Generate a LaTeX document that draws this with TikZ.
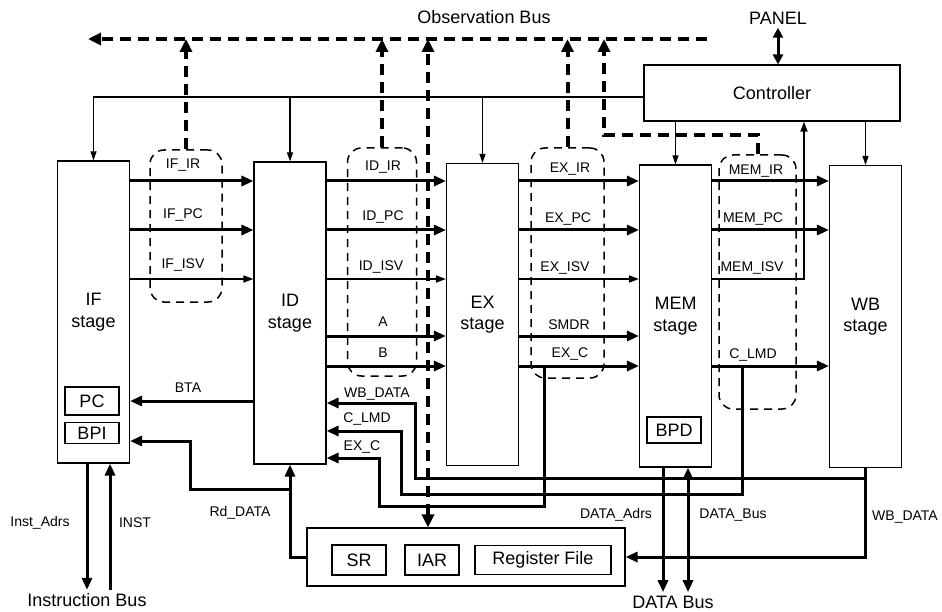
\documentclass[tikz,border=0pt]{standalone}
\usepackage{fontspec}
\setmainfont{Liberation Sans}
\usetikzlibrary{arrows.meta, positioning}

\begin{document}
\begin{tikzpicture}[x=1pt, y=-1pt,
    every node/.style={font=\fontsize{14}{16}\selectfont},
    big/.style={font=\fontsize{18}{21.5}\selectfont},
    stagebox/.style={draw, line width=1.1pt, minimum width=72pt, minimum height=302pt, inner sep=0pt, big, align=center},
    regbox/.style={draw, line width=1.1pt, inner sep=0pt, big},
    latch/.style={draw, line width=1.5pt, dash pattern=on 8pt off 6pt, rounded corners=14pt, inner sep=0pt},
    bus/.style={line width=3pt, -{Triangle[length=12pt,width=10pt]}},
    thinbus/.style={line width=1.6pt, -{Triangle[length=10pt,width=7pt]}},
    ctl/.style={line width=1.1pt, -{Triangle[length=9pt,width=6pt]}},
    obsline/.style={line width=4pt, dash pattern=on 11pt off 7pt, -{Triangle[length=13pt,width=12pt]}}]
\useasboundingbox (0,0) rectangle (942,612);

% pipeline latches (dashed)
\node[latch, minimum width=72pt, minimum height=152pt] (IFlat) at (186,226) {};
\node[latch, minimum width=69pt, minimum height=228pt] (IDlat) at (382,262) {};
\node[latch, minimum width=73pt, minimum height=230pt] (EXlat) at (567.5,263) {};
\node[latch, minimum width=77pt, minimum height=254pt] (MEMlat) at (757.5,282) {};

% stages
\node[stagebox] (IF) at (93.5,312) {IF\\stage};
\node[stagebox] (ID) at (290,313) {ID\\stage};
\node[stagebox] (EX) at (482.5,314.5) {EX\\stage};
\node[stagebox] (MEM) at (675.5,316) {MEM\\stage};
\node[stagebox] (WB) at (865.5,316.5) {WB\\stage};
\node[regbox, minimum width=54pt, minimum height=28pt] (PC) at (92,401) {PC};
\node[regbox, minimum width=54pt, minimum height=21pt] (BPI) at (92,433) {BPI};
\node[regbox, minimum width=54pt, minimum height=26pt] (BPD) at (674,430) {BPD};

\node[regbox, minimum width=256pt, minimum height=56pt] (ctrl) at (772,93) {Controller};
\node[regbox, minimum width=318pt, minimum height=58pt] (regs) at (466,557) {};
\node[regbox, minimum width=54pt, minimum height=30pt] (SR) at (359,560) {SR};
\node[regbox, minimum width=54pt, minimum height=30pt] (IAR) at (432,560) {IAR};
\node[regbox, minimum width=136pt, minimum height=29pt] (RF) at (543,560) {Register File};

% observation bus
\node[big] (obs) at (484,17) {Observation Bus};
\node[big] (panel) at (778,18) {PANEL};
\coordinate (obsR) at (707,39);
\coordinate (obsL) at (88,39);
\coordinate (obsX) at (428,39);
\coordinate (memo) at (604,135);
\draw[obsline] (obsR) -- (obsL);
\draw[obsline] (IFlat.north) -- (IFlat.north |- obsL);
\draw[obsline] (IDlat.north) -- (IDlat.north |- obsL);
\draw[obsline] (EXlat.north) -- (EXlat.north |- obsL);
\draw[obsline] (MEMlat.north) |- (memo) -- (memo |- obsL);
\draw[obsline, {Triangle[length=13pt,width=12pt]}-{Triangle[length=13pt,width=12pt]}] (obsX |- regs.north) -- (obsX);
\draw[bus, {Triangle[length=10pt,width=10pt]}-{Triangle[length=10pt,width=10pt]}] (panel.south) -- (panel.south |- ctrl.north);

% control lines
\coordinate (crow) at (644,97);
\draw[ctl] (crow) -| (IF.north);
\draw[ctl] (crow -| ID.north) -- (ID.north);
\draw[ctl] (crow -| EX.north) -- (EX.north);
\draw[ctl] (ctrl.south -| MEM.north) -- (MEM.north);
\draw[ctl] (ctrl.south -| WB.north) -- (WB.north);

% pipeline registers
\coordinate (rIR) at (0,181);
\coordinate (rPC) at (0,230);
\coordinate (rISV) at (0,279);
\coordinate (rA) at (0,336);
\coordinate (rB) at (0,366);
\foreach \a/\b in {IF/ID, ID/EX, EX/MEM, MEM/WB} {
  \draw[bus] (\a.east |- rIR) -- (\b.west |- rIR);
  \draw[bus] (\a.east |- rPC) -- (\b.west |- rPC);
}
\foreach \a/\b in {IF/ID, ID/EX, EX/MEM}
  \draw[thinbus] (\a.east |- rISV) -- (\b.west |- rISV);
\foreach \a/\b in {ID/EX, EX/MEM}
  \draw[bus] (\a.east |- rA) -- (\b.west |- rA);
\foreach \a/\b in {ID/EX, EX/MEM, MEM/WB}
  \draw[bus] (\a.east |- rB) -- (\b.west |- rB);
\coordinate (misv) at (804,279);
\draw[thinbus] (MEM.east |- rISV) -- (misv) -- (misv |- ctrl.south);

\node (lIFIR) at (183,165) {IF\_IR};
\node (lIFPC) at (183,215) {IF\_PC};
\node (lIFISV) at (183,265) {IF\_ISV};
\node (lIDIR) at (383,167) {ID\_IR};
\node (lIDPC) at (383,217) {ID\_PC};
\node (lIDISV) at (381,267) {ID\_ISV};
\node (lA) at (383,322) {A};
\node (lB) at (383,353) {B};
\node (lEXIR) at (570,169) {EX\_IR};
\node (lEXPC) at (568,219) {EX\_PC};
\node (lEXISV) at (565,268) {EX\_ISV};
\node (lSMDR) at (569,325) {SMDR};
\node (lEXC) at (570,354) {EX\_C};
\node (lMEMIR) at (756,171) {MEM\_IR};
\node (lMEMPC) at (753,219) {MEM\_PC};
\node (lMEMISV) at (752,268) {MEM\_ISV};
\node (lCLMD) at (753,355) {C\_LMD};

% branch target and register read
\coordinate (rBTA) at (0,401);
\draw[bus] (ID.west |- rBTA) -- (IF.east |- rBTA);
\node (lBTA) at (188,388) {BTA};
\coordinate (rdA) at (190,489);
\coordinate (rdB) at (190,441);
\draw[bus] (regs.west) -| (ID.south);
\draw[bus] (ID.south |- rdA) -- (rdA) -- (rdB) -- (rdB -| IF.east);
\node (lRd) at (240,513) {Rd\_DATA};

% forwarding paths back to ID
\coordinate (rWB) at (0,478);
\coordinate (wbB) at (415,403);
\coordinate (clA) at (742,494);
\coordinate (clB) at (401,431);
\coordinate (ecA) at (544,506);
\coordinate (ecB) at (379,458);
\draw[bus] (WB.south) |- (regs.east);
\draw[bus] (WB.south |- rWB) -| (wbB) -- (wbB -| ID.east);
\draw[bus] (clA |- rB) -- (clA) -| (clB) -- (clB -| ID.east);
\draw[bus] (ecA |- rB) -- (ecA) -| (ecB) -- (ecB -| ID.east);
\node (lWBD) at (377,394) {WB\_DATA};
\node (lCLMD2) at (367,419) {C\_LMD};
\node (lEXC2) at (362,447) {EX\_C};
\node (lWBD2) at (905,517) {WB\_DATA};

% external buses
\node[big] (ibus) at (87,600) {Instruction Bus};
\node[big] (dbus) at (673,602) {DATA Bus};
\coordinate (iA) at (87,0);
\coordinate (iB) at (110,0);
\coordinate (dA) at (663,0);
\coordinate (dB) at (688,0);
\draw[bus] (iA |- IF.south) -- (iA |- ibus.north);
\draw[bus] (iB |- ibus.north) -- (iB |- IF.south);
\draw[bus] (dA |- MEM.south) -- (dA |- dbus.north);
\draw[bus, {Triangle[length=12pt,width=10pt]}-{Triangle[length=12pt,width=10pt]}] (dB |- dbus.north) -- (dB |- MEM.south);
\node (lIA) at (40,523) {Inst\_Adrs};
\node (lINST) at (135,523) {INST};
\node (lDA) at (616,515) {DATA\_Adrs};
\node (lDB) at (733,515) {DATA\_Bus};
\end{tikzpicture}
\end{document}
